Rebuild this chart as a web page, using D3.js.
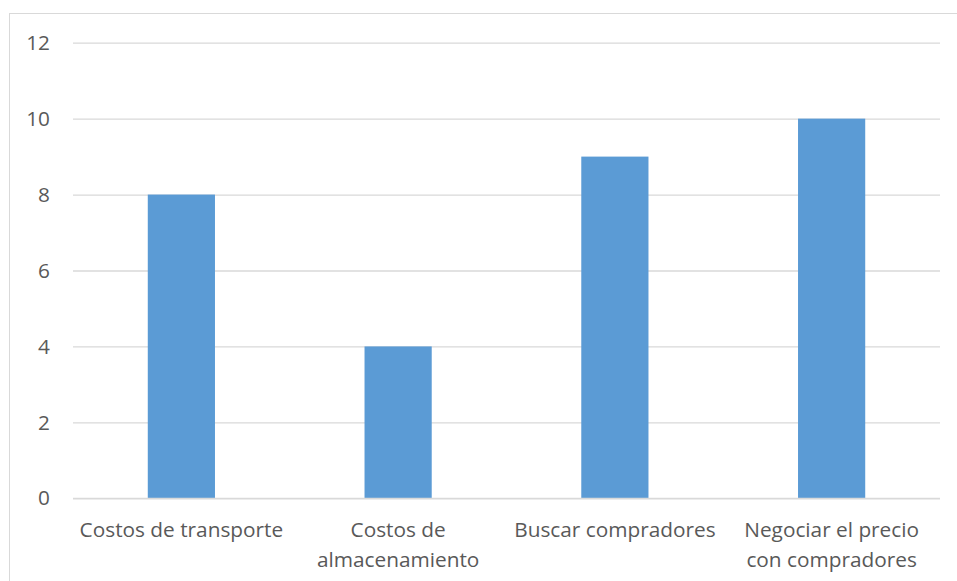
<!DOCTYPE html>
<html>
<head>
<meta charset="utf-8">
<script src="https://cdn.jsdelivr.net/npm/d3@7"></script>
<style>
  html, body { margin: 0; padding: 0; background: #fff; }
  svg { display: block; }
  text { font-family: "Open Sans", Lato, sans-serif; fill: #595959; }
</style>
</head>
<body>
<script>
// Categories (line breaks mark where the axis label wraps)
const categories = [
  "Costos de transporte",
  "Costos de\nalmacenamiento",
  "Buscar compradores",
  "Negociar el precio\ncon compradores"
];
const values = [8, 4, 9, 10];
const yTicks = [0, 2, 4, 6, 8, 10, 12];

const W = 957, H = 581;
const margin = { left: 73, right: 17, top: 42.7, bottom: 82.7 };
const fontSize = 20.8;

const svg = d3.select("body").append("svg")
  .attr("width", W).attr("height", H);

// chart frame
svg.append("rect")
  .attr("x", 9.5).attr("y", 13.5)
  .attr("width", W + 20).attr("height", H + 20)
  .attr("fill", "none").attr("stroke", "#d9d9d9").attr("stroke-width", 1);

const x = d3.scaleBand()
  .domain(categories)
  .range([margin.left, W - margin.right])
  .paddingInner(0.69)
  .paddingOuter(0.345);

const y = d3.scaleLinear()
  .domain([0, 12])
  .range([H - margin.bottom, margin.top]);

// horizontal gridlines
const yAxis = d3.axisLeft(y)
  .tickValues(yTicks)
  .tickSize(-(W - margin.right - margin.left))
  .tickPadding(23)
  .tickFormat(d3.format("d"));

const gy = svg.append("g")
  .attr("transform", `translate(${margin.left},0)`)
  .call(yAxis);
gy.select(".domain").remove();
gy.selectAll(".tick line").attr("stroke", "#d9d9d9").attr("stroke-width", 1.3);
gy.selectAll(".tick text")
  .attr("font-size", fontSize)
  .attr("fill", "#595959")
  .style("font-family", "'Open Sans', Lato, sans-serif");

// bars
svg.append("g").selectAll("rect")
  .data(categories.map((c, i) => ({ c, v: values[i] })))
  .join("rect")
  .attr("x", d => x(d.c))
  .attr("width", x.bandwidth())
  .attr("y", d => y(d.v))
  .attr("height", d => y(0) - y(d.v))
  .attr("fill", "#5b9bd5");

// baseline redrawn over bars
svg.append("line")
  .attr("x1", margin.left).attr("x2", W - margin.right)
  .attr("y1", y(0)).attr("y2", y(0))
  .attr("stroke", "#d9d9d9").attr("stroke-width", 1.3);

// category labels
const xAxis = d3.axisBottom(x).tickSize(0).tickFormat("");
const gx = svg.append("g")
  .attr("transform", `translate(0,${y(0)})`)
  .call(xAxis);
gx.select(".domain").remove();
gx.selectAll(".tick").each(function(d) {
  const lines = d.split("\n");
  const t = d3.select(this).append("text")
    .attr("text-anchor", "middle")
    .attr("font-size", fontSize)
    .attr("fill", "#595959");
  lines.forEach((ln, i) => {
    t.append("tspan").attr("x", 0).attr("y", 39 + i * 30).text(ln);
  });
});
</script>
</body>
</html>
